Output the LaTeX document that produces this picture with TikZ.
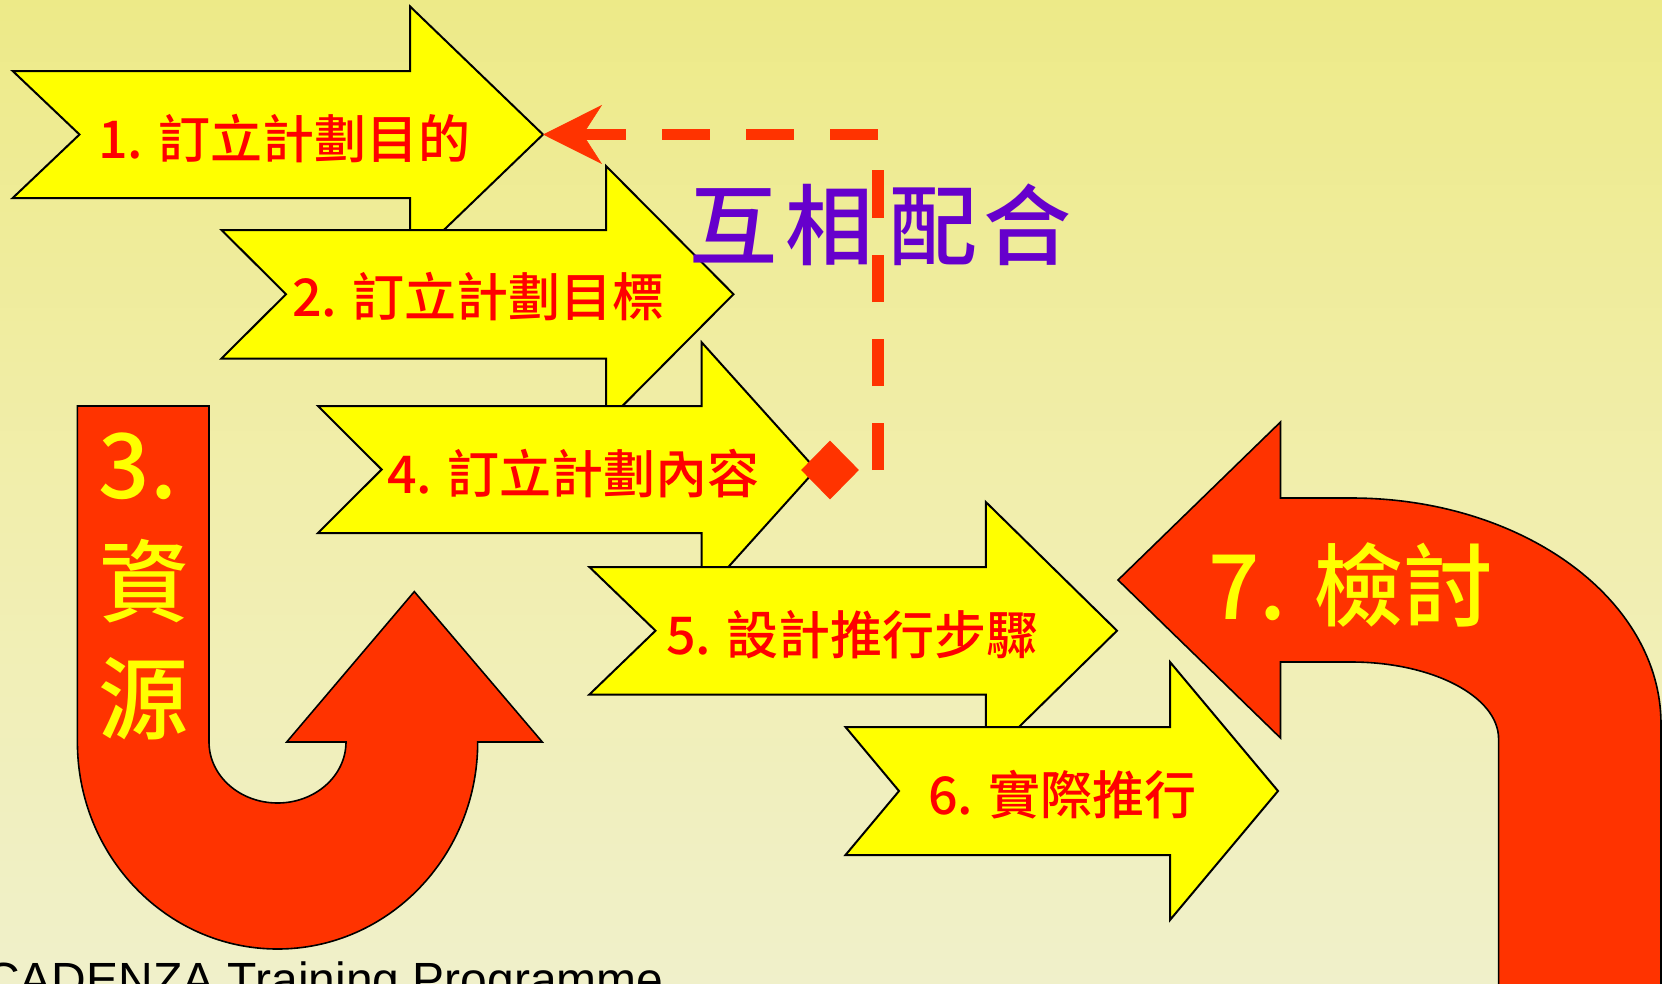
\documentclass[tikz,border=0pt]{standalone}
\usepackage{fontspec}
\setmainfont{Liberation Sans}
\newfontfamily\cjk{Noto Sans CJK TC}[UprightFont=* Medium]
\usetikzlibrary{arrows.meta,shapes.geometric}
\definecolor{oreda}{RGB}{255,51,0}
\definecolor{yarrow}{RGB}{255,255,0}
\definecolor{tred}{RGB}{255,0,0}
\definecolor{tpurple}{RGB}{102,0,204}
\definecolor{bgtop}{RGB}{237,234,136}
\definecolor{bgmid}{RGB}{241,238,172}
\definecolor{bgbot}{RGB}{240,240,202}
\tikzset{
  yshape/.style={fill=yarrow, draw=black, line width=2bp, line join=miter},
  redshape/.style={fill=oreda, draw=black, line width=1.6bp},
  smalltxt/.style={text=tred, font=\cjk\fontsize{52bp}{60bp}\selectfont, inner sep=0, anchor=base west},
  bigtxt/.style={text=yarrow, font=\cjk\fontsize{90bp}{108bp}\selectfont, inner sep=0, anchor=base west},
  dashconn/.style={draw=oreda, line width=11.5bp, dash pattern=on 47.5bp off 36.5bp,
    -{Stealth[length=59bp,width=59bp,inset=19bp,line width=0.5bp]}},
}
\begin{document}
\begin{tikzpicture}[x=1bp,y=-1bp]
\useasboundingbox (0,0) rectangle (1662,983);
\clip (0,0) rectangle (1662,983);
\shade[top color=bgtop, bottom color=bgbot, middle color=bgmid] (0,0) rectangle (1662,983);

% red U arrow (3)
\draw[redshape] (77.4,406) -- (209,406) -- (209,742)
  arc[start angle=180, end angle=0, x radius=68.5, y radius=61]
  -- (286.7,742) -- (414.3,591.6) -- (542.3,742) -- (477.7,742)
  arc[start angle=0, end angle=180, x radius=200.15, y radius=207] -- cycle;
\node[bigtxt] (t3) at (98.5,498) {3.};
\node[bigtxt] (t3a) at (99,615) {資};
\node[bigtxt] (t3b) at (98,732) {源};

% red arrow 7
\draw[redshape] (1118,580) -- (1280.5,422) -- (1280.5,498) -- (1351,498)
  arc[start angle=-90, end angle=0, x radius=310, y radius=226]
  -- (1661,995) -- (1498.6,995) -- (1498.6,739)
  arc[start angle=0, end angle=-90, x radius=147.6, y radius=77]
  -- (1280.5,662) -- (1280.5,738) -- cycle;
\node[bigtxt] (t7) at (1208,619) {7. 檢討};

% yellow arrows
\draw[yshape] (12.7,71) -- (410,71) -- (410,6.4) -- (543,134.5) -- (410,262.6)
  -- (410,198) -- (12.7,198) -- (79.5,134.5) -- cycle;
\coordinate (a1tip) at (543,134.5);
\node[smalltxt] (t1) at (98,158.5) {1. 訂立計劃目的};

\draw[yshape] (221.5,230) -- (606,230) -- (606,166) -- (733.5,294.2) -- (606,422.5)
  -- (606,358.5) -- (221.5,358.5) -- (286,294.2) -- cycle;
\node[smalltxt] (t2) at (292,316.5) {2. 訂立計劃目標};

\draw[yshape] (318,406) -- (701.7,406) -- (701.7,342.4) -- (816,469.5) -- (701.7,596.6)
  -- (701.7,533) -- (318,533) -- (381.6,469.5) -- cycle;
\node[smalltxt] (t4) at (387,493) {4. 訂立計劃內容};
\node[diamond, fill=oreda, inner sep=0, minimum width=58bp, minimum height=59bp] (dia) at (830,470) {};

\draw[yshape] (589.4,567) -- (985.8,567) -- (985.8,502) -- (1117,630.7) -- (985.8,759.5)
  -- (985.8,694.5) -- (589.4,694.5) -- (655.5,630.7) -- cycle;
\node[smalltxt] (t5) at (666,654) {5. 設計推行步驟};

\draw[yshape] (845.5,727) -- (1170,727) -- (1170,662) -- (1278,791) -- (1170,920)
  -- (1170,855) -- (845.5,855) -- (899,791) -- cycle;
\node[smalltxt] (t6) at (928,814) {6. 實際推行};

% dashed connector
\coordinate (vbot) at ([xshift=48bp]dia.center);
\draw[dashconn] (vbot) |- (a1tip);
\node[anchor=base west, inner sep=0, text=tpurple, font=\cjk\fontsize{88bp}{104bp}\selectfont] (coop) at (689,258) {互\kern8bp 相\kern16bp 配\kern6bp 合};

% footer
\node[anchor=base west, inner sep=0, font=\fontsize{48bp}{56bp}\selectfont] (cadenza) at (-15,996) {CADENZA Training Programme};
\end{tikzpicture}
\end{document}
